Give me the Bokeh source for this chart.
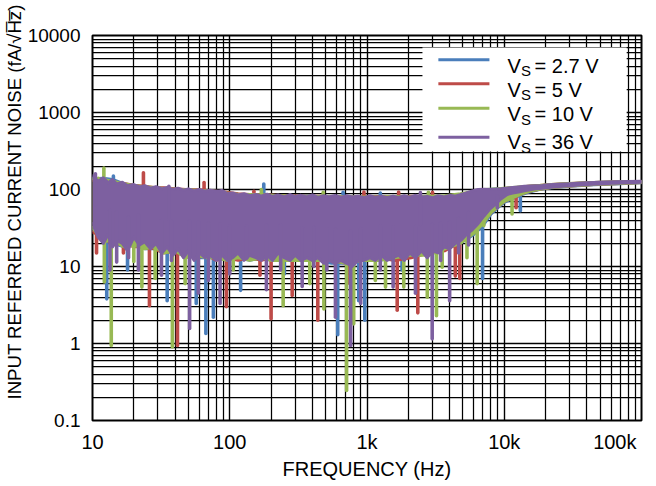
import numpy as np
from bokeh.plotting import figure
from bokeh.models import FixedTicker, Label, BoxAnnotation, Title
from bokeh.embed import file_html
from bokeh.resources import INLINE

# ---------------- data ----------------
legend_values = ["2.7 V", "5 V", "10 V", "36 V"]

x_tick_values = [10, 100, 1000, 10000, 100000]
x_tick_labels = ["10", "100", "1k", "10k", "100k"]
y_tick_values = [0.1, 1, 10, 100, 1000, 10000]
y_tick_labels = ["0.1", "1", "10", "100", "1000", "10000"]

# V_S = 36 V (purple): envelope of the dense noise trace
purple_freq = [10, 11, 12, 13, 14, 15, 16.5, 18, 20, 22,
               24, 26.5, 29, 32, 35, 38.5, 42, 46, 50, 55,
               60, 66, 72, 80, 88, 96, 105, 115, 127, 140,
               155, 170, 187, 205, 225, 250, 275, 300, 330, 365,
               400, 440, 485, 530, 585, 645, 710, 780, 860, 950,
               1050, 1150, 1270, 1400, 1550, 1700, 1870, 2050, 2250, 2500,
               2750, 3000, 3300, 3650, 4000, 4400, 4850, 5300, 5850, 6450,
               7100, 7800, 8600, 9500, 10500, 11500, 12700, 14000, 15500, 17000,
               19000, 21000, 25000, 30000, 40000, 50000, 65000, 80000, 100000]
purple_top = [150, 128, 142, 122, 135, 118, 124, 112, 116, 108,
              112, 104, 109, 102, 106, 100, 104, 98, 102, 96,
              100, 95, 98, 94, 97, 88, 90, 85, 88, 83,
              86, 82, 87, 81, 85, 80, 86, 81, 84, 80,
              85, 79, 83, 80, 84, 79, 83, 80, 82, 78,
              83, 79, 82, 78, 82, 79, 83, 79, 84, 80,
              81, 78, 83, 80, 84, 82, 86, 90, 96, 100,
              101, 100, 101, 102, 104, 106, 108, 110, 111, 112,
              113, 115, 117, 119, 122, 124, 126, 127, 128]
purple_bottom = [36, 24, 20, 26, 18, 22, 20, 16, 24, 19,
                 21, 17, 20, 15, 18, 14, 17, 13, 16, 12,
                 15, 13, 14, 12, 14, 12, 13, 15, 12, 14,
                 13, 12, 14, 12, 15, 13, 12, 14, 12, 13,
                 12, 13, 11, 12, 11, 12, 11, 10, 12, 12,
                 13, 12, 14, 12, 13, 14, 12, 15, 13, 16,
                 13, 16, 15, 18, 17, 20, 22, 26, 30, 36,
                 45, 55, 64, 76, 86, 90, 93, 96, 99, 102,
                 104, 106, 109, 112, 116, 118, 121, 122, 124]

# frequency grid of the other three traces
trace_freq = [10, 12, 14, 17, 20, 24, 28, 33, 40, 48,
              57, 68, 80, 95, 115, 140, 170, 200, 250, 300,
              370, 450, 550, 700, 900, 1200, 1600, 2100, 2800, 3700,
              4800, 6000, 7000, 8000, 9000, 10000, 11500, 13000, 15000, 18000,
              22000, 30000, 45000, 70000, 100000]

blue_top = [138, 140, 135, 118, 112, 108, 105, 104, 100, 99,
            97, 96, 95, 91, 87, 85, 84, 84, 82, 82,
            83, 80, 80, 82, 79, 80, 79, 81, 80, 82,
            86, 92, 99, 101, 102, 103, 105, 107, 109, 112,
            115, 119, 123, 126, 127]
blue_bottom = [30, 22, 20, 18, 20, 17, 17, 16, 15, 14,
               13, 13, 13, 12, 13, 12, 13, 12, 13, 12,
               12, 12, 11, 11, 12, 12, 13, 14, 15, 17,
               20, 26, 34, 48, 58, 68, 76, 84, 92, 100,
               105, 110, 115, 119, 122]

red_top = [132, 130, 126, 120, 114, 110, 106, 105, 102, 100,
           99, 97, 95, 92, 88, 86, 85, 85, 83, 83,
           82, 82, 80, 81, 80, 81, 80, 82, 80, 82,
           87, 93, 99, 100, 101, 103, 105, 107, 110, 113,
           116, 120, 123, 126, 127]
red_bottom = [28, 24, 19, 20, 18, 18, 17, 15, 16, 14,
              13, 14, 12, 13, 12, 13, 12, 13, 12, 12,
              13, 12, 12, 11, 12, 13, 12, 13, 15, 16,
              21, 28, 38, 50, 60, 70, 78, 86, 94, 101,
              106, 111, 116, 120, 123]

green_top = [140, 135, 128, 119, 113, 109, 106, 103, 101, 99,
             98, 96, 94, 90, 87, 86, 85, 84, 83, 82,
             82, 81, 80, 81, 80, 80, 81, 80, 82, 83,
             88, 94, 100, 101, 102, 104, 106, 108, 110, 113,
             116, 120, 123, 126, 127]
green_bottom = [32, 21, 22, 18, 19, 17, 18, 15, 16, 13,
                14, 13, 13, 12, 13, 12, 13, 12, 12, 12,
                12, 12, 12, 11, 12, 12, 13, 14, 14, 17,
                20, 27, 36, 50, 60, 70, 78, 86, 94, 101,
                106, 111, 116, 120, 123]

# deep minima (dips) of each trace: frequency (Hz), value (fA/rtHz)
blue_dip_freq = [12.7, 18, 35, 57, 67, 76, 120, 250, 612, 870, 964, 1800, 3000, 6950, 13100]
blue_dip_low = [3.8, 9, 3.6, 3.3, 1.35, 2.2, 4.9, 8, 1.3, 3.6, 2.0, 9, 8, 7.0, 53]
red_dip_freq = [10.7, 16.8, 26, 41.6, 94.5, 166, 200, 285, 438, 750, 1660, 2345, 4400, 4745, 12200]
red_dip_low = [15, 15, 3.1, 0.94, 3.0, 7.7, 2.1, 4.2, 2.0, 6, 2.7, 2.5, 7.5, 7.0, 58]
green_dip_freq = [12.2, 13.7, 20, 22.9, 28.6, 38.2, 47.3, 106, 245, 383, 485, 710, 800,
                  1150, 1364, 1853, 2750, 3208, 3530, 5350, 6350, 7100, 11400]
green_dip_low = [6.3, 0.94, 11.6, 5.4, 7, 0.9, 6, 9, 3.1, 6, 2.8, 0.245, 1.8,
                 6.6, 5.4, 5.4, 4.0, 2.3, 9.8, 13, 6.0, 34, 48]
purple_dip_freq = [13.4, 15, 18.3, 21.6, 31.8, 37.6, 51, 59, 70, 85,
                   100, 133, 185, 235, 337, 410, 510, 589, 760, 900,
                   1250, 1550, 2255, 2985, 3440, 4000, 4650, 5500, 8900]
purple_dip_low = [9, 11.4, 13, 9, 7.7, 12, 1.57, 4.5, 6.6, 3.3,
                  8, 12.8, 5, 9, 5.5, 10, 9, 2.2, 0.94, 3.3,
                  9, 5.4, 4.5, 1.15, 12, 3.6, 15, 19, 58]

# upward peaks of each trace
blue_peak_freq = [14.2, 177, 670, 1250]
blue_peak_high = [150, 118, 92, 90]
red_peak_freq = [23.5, 65, 150, 950, 1700, 3000]
red_peak_high = [165, 123, 95, 93, 93, 92]
green_peak_freq = [11, 12.1, 170, 480, 2800]
green_peak_high = [140, 190, 100, 92, 92]
purple_peak_freq = [10.5, 36, 2450]
purple_peak_high = [160, 110, 91]

# ---------------- styling ----------------
FONT = "Liberation Sans"
BLUE, RED, GREEN, PURPLE = "#4A7EBB", "#BE4B48", "#98B954", "#7D60A0"
X_LO, X_HI = 10, 100000
Y_LO, Y_HI = 0.1, 10000


def frac_x(f):
    return 10 ** (np.log10(X_LO) + f * (np.log10(X_HI) - np.log10(X_LO)))


def frac_y(f):
    return 10 ** (np.log10(Y_LO) + f * (np.log10(Y_HI) - np.log10(Y_LO)))


def band_mid(freqs, grid, top, bottom):
    mid = (np.log10(top) + np.log10(bottom)) / 2.0
    return 10 ** np.interp(np.log10(freqs), np.log10(grid), mid)


p = figure(width=656, height=486, x_axis_type="log", y_axis_type="log",
           x_range=(X_LO, X_HI), y_range=(Y_LO, Y_HI),
           output_backend="svg", toolbar_location=None,
           min_border_left=92, min_border_right=15, min_border_top=35, min_border_bottom=66)
p.background_fill_color = "white"
p.border_fill_color = "white"
p.outline_line_color = "black"
p.outline_line_width = 2

x_minor = [m * 10 ** k for k in range(1, 5) for m in range(2, 10)]
y_minor = [m * 10.0 ** k for k in range(-1, 4) for m in range(2, 10)]
p.xaxis.ticker = FixedTicker(ticks=x_tick_values, minor_ticks=x_minor)
p.yaxis.ticker = FixedTicker(ticks=y_tick_values, minor_ticks=y_minor)
x_over = dict(zip(x_tick_values, x_tick_labels))
x_over[100000] = x_tick_labels[-1] + "\u2002\u2002"   # keep the last label inside the canvas
p.xaxis.major_label_overrides = x_over
p.yaxis.major_label_overrides = dict(zip(y_tick_values, y_tick_labels))

for ax in (p.xaxis, p.yaxis):
    ax.major_tick_line_color = None
    ax.minor_tick_line_color = None
    ax.axis_line_color = None
    ax.major_label_text_font = FONT
    ax.major_label_text_color = "black"
p.xaxis.major_label_text_font_size = "20px"
p.yaxis.major_label_text_font_size = "19px"
p.yaxis.major_label_standoff = 6
p.xaxis.major_label_standoff = 4

p.xaxis.axis_label = "FREQUENCY (Hz)"
p.xaxis.axis_label_text_font = FONT
p.xaxis.axis_label_text_font_size = "20px"
p.xaxis.axis_label_text_font_style = "normal"
p.xaxis.axis_label_text_color = "black"
p.xaxis.axis_label_standoff = 2

ytitle = Title(text="INPUT REFERRED CURRENT NOISE (fA/\u221aH\u0305z\u0305)", align="left",
               offset=21, standoff=0, text_font=FONT, text_font_size="18.6px",
               text_font_style="normal", text_color="black", text_line_height=1.0)
p.add_layout(ytitle, "left")

for g in (p.xgrid, p.ygrid):
    g.grid_line_color = "black"
    g.grid_line_width = 1.4
    g.grid_line_alpha = 1
    g.minor_grid_line_color = "black"
    g.minor_grid_line_width = 1.25
    g.minor_grid_line_alpha = 1

# ---------------- traces ----------------
traces = [
    (trace_freq, blue_top, blue_bottom, blue_dip_freq, blue_dip_low, blue_peak_freq, blue_peak_high, BLUE),
    (trace_freq, red_top, red_bottom, red_dip_freq, red_dip_low, red_peak_freq, red_peak_high, RED),
    (trace_freq, green_top, green_bottom, green_dip_freq, green_dip_low, green_peak_freq, green_peak_high, GREEN),
    (purple_freq, purple_top, purple_bottom, purple_dip_freq, purple_dip_low, purple_peak_freq, purple_peak_high, PURPLE),
]
for grid, top, bot, dfq, dlo, pfq, phi, col in traces:
    assert len(grid) == len(top) == len(bot)
    assert len(dfq) == len(dlo) and len(pfq) == len(phi)
    p.varea(x=grid, y1=bot, y2=top, fill_color=col, fill_alpha=1)
    p.line(grid, top, line_color=col, line_width=3, line_join="round", line_cap="round")
    p.line(grid, bot, line_color=col, line_width=3, line_join="round", line_cap="round")
    dmid = band_mid(dfq, grid, top, bot)
    p.segment(x0=dfq, x1=dfq, y0=list(dmid), y1=dlo, line_color=col, line_width=3.6, line_cap="round")
    pmid = band_mid(pfq, grid, top, bot)
    p.segment(x0=pfq, x1=pfq, y0=list(pmid), y1=phi, line_color=col, line_width=3.6, line_cap="round")

# ---------------- legend ----------------
box = BoxAnnotation(left=frac_x(0.601), right=frac_x(0.973), bottom=frac_y(0.699), top=frac_y(0.969),
                    fill_color="white", fill_alpha=1, line_color=None, level="underlay")
p.add_layout(box)
row_line = [0.937, 0.875, 0.811, 0.736]
row_text = [0.922, 0.859, 0.795, 0.723]
colors = [BLUE, RED, GREEN, PURPLE]
p.segment(x0=[frac_x(0.630)] * 4, x1=[frac_x(0.723)] * 4,
          y0=[frac_y(v) for v in row_line], y1=[frac_y(v) for v in row_line],
          line_color=colors, line_width=3)
tx = frac_x(0.756)
for val, ry in zip(legend_values, row_text):
    yy = frac_y(ry)
    p.add_layout(Label(x=tx, y=yy, text="V", text_font=FONT, text_font_size="20px",
                       text_baseline="alphabetic", text_align="left", text_color="black"))
    p.add_layout(Label(x=tx, y=yy, x_offset=13.5, y_offset=-5, text="S", text_font=FONT,
                       text_font_size="15px", text_baseline="alphabetic", text_align="left",
                       text_color="black"))
    p.add_layout(Label(x=tx, y=yy, x_offset=27, text="= " + val, text_font=FONT,
                       text_font_size="20px", text_baseline="alphabetic", text_align="left",
                       text_color="black"))

open("out.html", "w").write(file_html(p, INLINE))
